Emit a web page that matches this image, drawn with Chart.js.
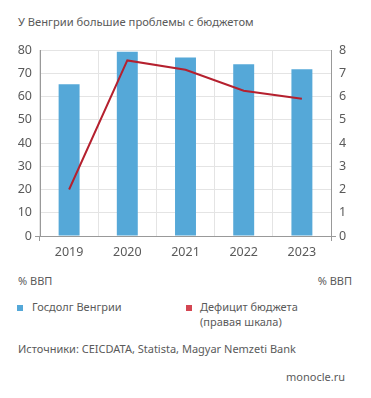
<!DOCTYPE html>
<html><head><meta charset="utf-8">
<script src="https://cdn.jsdelivr.net/npm/chart.js@4/dist/chart.umd.min.js"></script>
<style>
html,body{margin:0;padding:0;background:#fff;}
body{width:371px;height:398px;position:relative;overflow:hidden;font-family:"Noto Sans",sans-serif;color:#5a5a5a;}
.t{position:absolute;font-size:11px;white-space:nowrap;line-height:15px;}
#wrap{position:absolute;left:0;top:0;width:371px;height:270px;}
.sq{position:absolute;width:6px;height:6px;}
</style></head><body>
<div class="t" style="left:18px;top:14px;font-size:11.2px;">У Венгрии большие проблемы с бюджетом</div>
<div id="wrap"><canvas id="c"></canvas></div>
<div class="t" style="left:18px;top:273px;">% ВВП</div>
<div class="t" style="right:19px;top:273px;">% ВВП</div>
<div class="sq" style="left:17px;top:305px;background:#55a8d8;"></div>
<div class="t" style="left:32px;top:299px;">Госдолг Венгрии</div>
<div class="sq" style="left:186px;top:305px;background:#d44652;"></div>
<div class="t" style="left:200px;top:299px;">Дефицит бюджета<br>(правая шкала)</div>
<div class="t" style="left:18px;top:341px;">Источники: CEICDATA, Statista, Magyar Nemzeti Bank</div>
<div class="t" style="right:26px;top:369px;">monocle.ru</div>
<script>
const years = ["2019","2020","2021","2022","2023"];
const debt = [65.3, 79.3, 76.8, 73.9, 71.7];
const deficit = [2.0, 7.55, 7.15, 6.25, 5.9];
const leftTicks = [0,10,20,30,40,50,60,70,80];
const rightTicks = [0,1,2,3,4,5,6,7,8];

const font = {family:"Noto Sans", size:12.5};
const zeroTicks = {
  id:'zeroTicks',
  afterDraw(chart){
    const {ctx, chartArea:a} = chart;
    ctx.save();
    ctx.strokeStyle = '#999'; ctx.lineWidth = 1;
    ctx.beginPath();
    ctx.moveTo(a.left-5, a.bottom+0.5); ctx.lineTo(a.left, a.bottom+0.5);
    ctx.moveTo(a.right, a.bottom+0.5); ctx.lineTo(a.right+5, a.bottom+0.5);
    ctx.moveTo(a.left-0.5, a.bottom); ctx.lineTo(a.left-0.5, a.bottom+5);
    ctx.moveTo(a.right+0.5, a.bottom); ctx.lineTo(a.right+0.5, a.bottom+5);
    ctx.stroke();
    ctx.restore();
  }
};
new Chart(document.getElementById('c'), {
  data: {
    labels: years,
    datasets: [
      {type:'line', data: deficit, yAxisID:'y2', borderColor:'#b5202e', borderWidth:2, pointRadius:0, tension:0, order:0},
      {type:'bar', data: debt, yAxisID:'y', backgroundColor:'#55a8d8', barPercentage:0.36, categoryPercentage:1, order:1}
    ]
  },
  plugins:[zeroTicks],
  options: {
    responsive:true, maintainAspectRatio:false, animation:false,
    layout:{padding:{top:50,left:0,right:0,bottom:0}},
    plugins:{legend:{display:false}, tooltip:{enabled:false}},
    scales:{
      x:{
        grid:{color:'#e4e4e4', drawTicks:false, offset:true},
        border:{color:'#999'},
        ticks:{color:'#5a5a5a', font, padding:9},
        afterFit(s){ s.height = 34; }
      },
      y:{
        position:'left', min:0, max:80,
        afterBuildTicks(s){ s.ticks = leftTicks.map(v=>({value:v})); },
        grid:{color:'#e4e4e4', drawTicks:false},
        border:{color:'#999'},
        ticks:{color:'#5a5a5a', font, padding:8},
        afterFit(s){ s.width = 40; }
      },
      y2:{
        position:'right', min:0, max:8,
        afterBuildTicks(s){ s.ticks = rightTicks.map(v=>({value:v})); },
        grid:{display:false, drawTicks:false},
        border:{color:'#999'},
        ticks:{color:'#5a5a5a', font, padding:8},
        afterFit(s){ s.width = 40; }
      }
    }
  }
});
</script>
</body></html>
